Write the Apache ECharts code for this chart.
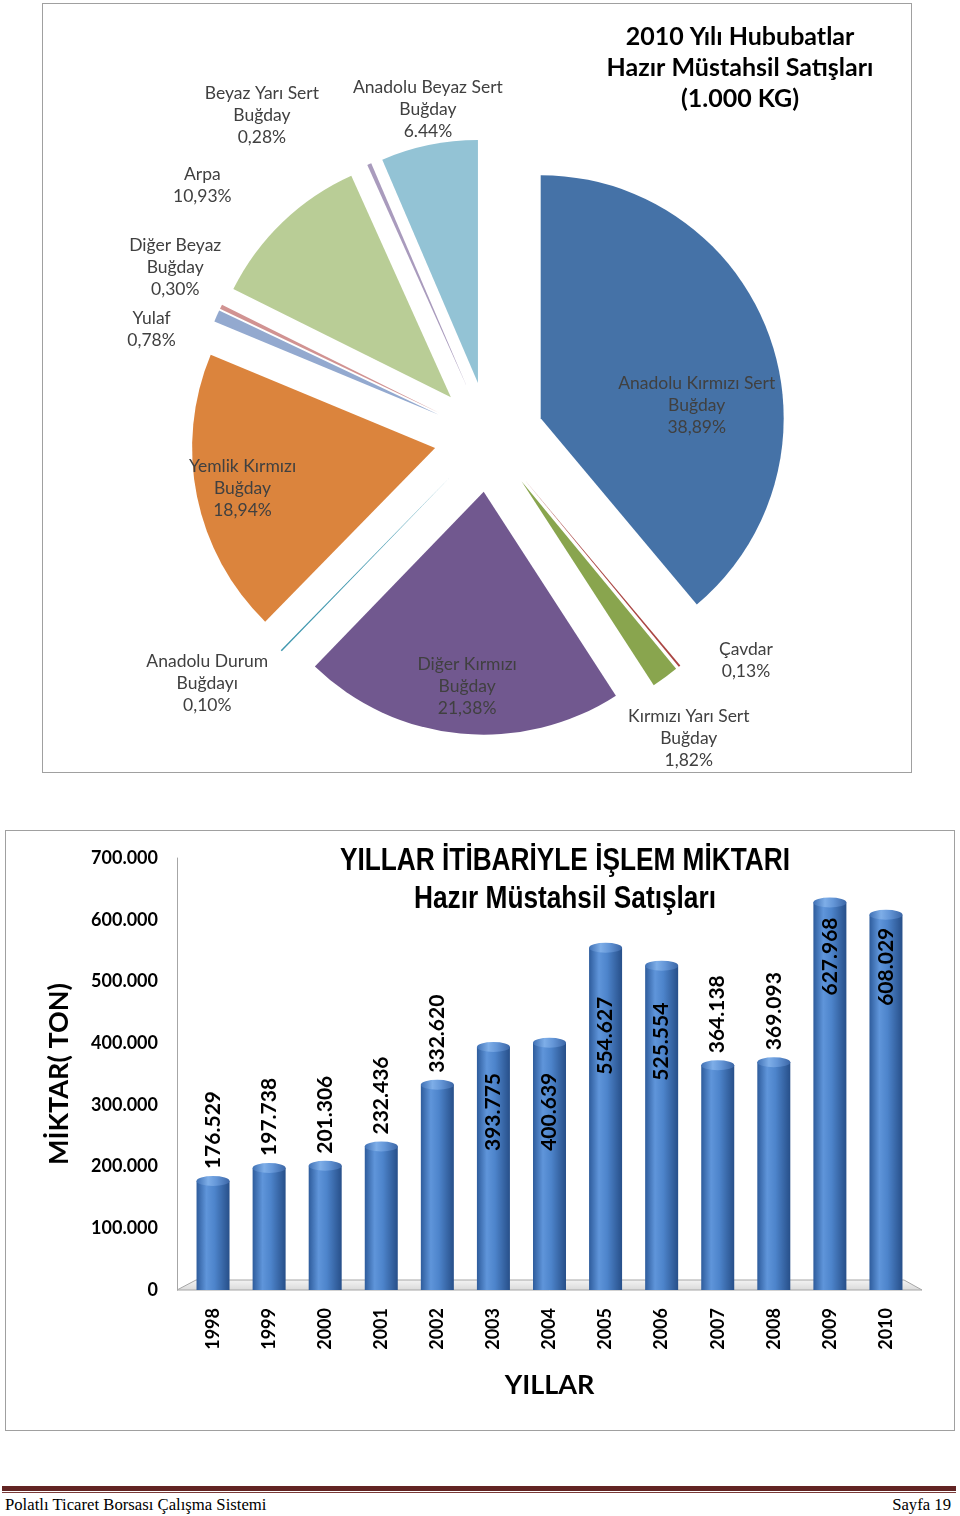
<!DOCTYPE html>
<html>
<head>
<meta charset="utf-8">
<script src="https://cdn.jsdelivr.net/npm/echarts@6/dist/echarts.min.js"></script>
<style>
  html, body { margin:0; padding:0; background:#fff; width:960px; height:1516px; overflow:hidden; position:relative; }
  #pie { position:absolute; left:42px; top:3px; width:868px; height:768px; border:1px solid #a0a0a0; }
  #bar { position:absolute; left:5px; top:830px; width:948px; height:599px; border:1px solid #a0a0a0; }
  #rule1 { position:absolute; left:2px; top:1486px; width:954px; height:5px; background:#622423; }
  #rule2 { position:absolute; left:2px; top:1492px; width:954px; height:1px; background:#7a3a38; }
  .ft { position:absolute; top:1496px; font-family:'Liberation Serif', serif; font-size:16.7px; line-height:18px; color:#000; }
  #ftl { left:5px; }
  #ftr { right:9px; }
</style>
</head>
<body>
<div id="pie"></div>
<div id="bar"></div>
<div id="rule1"></div>
<div id="rule2"></div>
<div class="ft" id="ftl">Polatlı Ticaret Borsası Çalışma Sistemi</div>
<div class="ft" id="ftr">Sayfa 19</div>
<script>
// ---------- DATA ----------
const pieTitle = '2010 Yılı Hububatlar\nHazır Müstahsil Satışları\n(1.000 KG)';
const pieNames = [
  'Anadolu Kırmızı Sert\nBuğday', 'Çavdar', 'Kırmızı Yarı Sert\nBuğday', 'Diğer Kırmızı\nBuğday',
  'Anadolu Durum\nBuğdayı', 'Yemlik Kırmızı\nBuğday', 'Yulaf', 'Diğer Beyaz\nBuğday',
  'Arpa', 'Beyaz Yarı Sert\nBuğday', 'Anadolu Beyaz Sert\nBuğday'
];
const pieValues = [38.89, 0.13, 1.82, 21.38, 0.10, 18.94, 0.78, 0.30, 10.93, 0.28, 6.44];
const piePercentText = ['38,89%', '0,13%', '1,82%', '21,38%', '0,10%', '18,94%', '0,78%', '0,30%', '10,93%', '0,28%', '6.44%'];

const barTitle = 'YILLAR İTİBARİYLE İŞLEM MİKTARI\nHazır Müstahsil Satışları';
const years = ['1998','1999','2000','2001','2002','2003','2004','2005','2006','2007','2008','2009','2010'];
const amounts = [176529, 197738, 201306, 232436, 332620, 393775, 400639, 554627, 525554, 364138, 369093, 627968, 608029];
const yAxisName = 'MİKTAR( TON)';
const xAxisName = 'YILLAR';

// ---------- STYLE ----------
const pieColors = ['#4572A7','#AA4643','#89A54E','#71588F','#4198AF','#DB843D','#93A9CF','#D19392','#B9CD96','#A99BBD','#93C3D5'];
// label placement: [angle (deg, clockwise from top), distance from pie centre]
const pieLabelPolar = [[81.5,210],[131.1,341],[146.5,362],[185,251],[228.7,375],[258,252],[287.6,354],[298.2,356],[311.2,381],[324.7,393],[349.4,332]];
const pieCenter = [446, 433];
// bar value label placement
const valueInside = [false,false,false,false,false,true,true,true,true,false,false,true,true];
const valueGap = [12,12,12,12,12,26,30,49,37,12,12,15,13];

function fmtThousands(v) {
  return String(v).replace(/\B(?=(\d{3})+(?!\d))/g, '.');
}

// ---------- PIE ----------
const pie = echarts.init(document.getElementById('pie'), null, {renderer:'canvas'});
const pieLabelGraphics = pieNames.map((n, i) => {
  const a = pieLabelPolar[i][0] * Math.PI / 180;
  return {
    type: 'text', z: 10,
    x: pieCenter[0] + pieLabelPolar[i][1] * Math.sin(a),
    y: pieCenter[1] - 1 - pieLabelPolar[i][1] * Math.cos(a),
    style: { text: n + '\n' + piePercentText[i], align: 'center', verticalAlign: 'middle',
      fill: '#404040', font: '17.5px Lato', lineHeight: 22 }
  };
});
pie.setOption({
  animation: false,
  graphic: [{
    type: 'text', x: 697, y: 17, z: 10,
    style: { text: pieTitle, align: 'center', verticalAlign: 'top', fill: '#000',
      font: 'bold 25px Lato', lineHeight: 31 }
  }].concat(pieLabelGraphics),
  series: [{
    type: 'pie',
    center: pieCenter,
    radius: [0, 243],
    startAngle: 90,
    clockwise: true,
    selectedMode: 'multiple',
    selectedOffset: 55,
    avoidLabelOverlap: false,
    emphasis: { disabled: true },
    label: { show: false },
    labelLine: { show: false },
    data: pieValues.map((v, i) => ({
      name: pieNames[i], value: v, selected: true,
      itemStyle: { color: pieColors[i] }
    }))
  }]
});

// ---------- BAR ----------
const bar = echarts.init(document.getElementById('bar'), null, {renderer:'canvas'});
const gridOpt = { left: 179, right: 40, top: 27, bottom: 140 };
const bodyGrad = { type:'linear', x:0, y:0, x2:1, y2:0, colorStops:[
  {offset:0, color:'#2e5c9c'}, {offset:0.3, color:'#5f95da'}, {offset:0.55, color:'#4d84cb'}, {offset:1, color:'#274f89'} ]};
const capGrad = { type:'linear', x:0, y:0, x2:1, y2:0, colorStops:[
  {offset:0, color:'#3f70b4'}, {offset:0.35, color:'#7eaee8'}, {offset:0.6, color:'#6597d8'}, {offset:1, color:'#3b66a6'} ]};
const ellipsePath = 'path://M0,5 A5,5 0 1,1 10,5 A5,5 0 1,1 0,5 Z';

bar.setOption({
  animation: false,
  grid: gridOpt,
  graphic: [{
    id: 'title', type: 'text', x: 559, y: 11, z: 10, scaleX: 0.82,
    style: { text: barTitle, align: 'center', verticalAlign: 'top', fill: '#000',
      font: 'bold 32px "Liberation Sans"', lineHeight: 38 }
  }],
  xAxis: {
    type: 'category', data: years,
    axisLine: { show: false }, axisTick: { show: false },
    axisLabel: { rotate: 90, margin: 18, fontFamily: 'Lato', fontWeight: 'bold', fontSize: 18, color: '#000' },
    name: xAxisName, nameLocation: 'middle', nameGap: 82,
    nameTextStyle: { fontFamily: 'Lato', fontWeight: 'bold', fontSize: 27, color: '#000' }
  },
  yAxis: {
    type: 'value', min: 0, max: 700000, interval: 100000, offset: 8,
    axisLine: { show: true, lineStyle: { color: '#a6a6a6', width: 1 } },
    axisTick: { show: false }, splitLine: { show: false },
    axisLabel: { margin: 19, fontFamily: 'Lato', fontWeight: 'bold', fontSize: 18, color: '#000',
      formatter: v => fmtThousands(v) },
    name: yAxisName, nameLocation: 'middle', nameGap: 104,
    nameTextStyle: { fontFamily: 'Lato', fontWeight: 'bold', fontSize: 27, color: '#000' }
  },
  series: [
    {
      type: 'bar', name: 'Miktar', z: 2, barWidth: 33,
      itemStyle: { color: bodyGrad },
      label: {
        show: true, rotate: 90, verticalAlign: 'middle', fontFamily: 'Lato', fontWeight: 'bold',
        fontSize: 21, color: '#000', formatter: p => fmtThousands(p.value)
      },
      data: amounts.map((v, i) => ({
        value: v,
        label: { position: valueInside[i] ? 'insideTop' : 'top', align: valueInside[i] ? 'right' : 'left', distance: valueGap[i] }
      }))
    },
    {
      type: 'pictorialBar', name: 'cap', z: 3,
      symbol: ellipsePath, symbolSize: [33, 10], symbolPosition: 'end', symbolOffset: [0, '-50%'],
      itemStyle: { color: capGrad }, silent: true,
      data: amounts
    }
  ]
});

// floor (3D base) derived from grid geometry
(function () {
  const y0 = bar.convertToPixel({ yAxisIndex: 0 }, 0);
  const W = bar.getWidth();
  const xl = gridOpt.left - 8, xr = W - gridOpt.right + 8;
  bar.setOption({
    graphic: [{
      id: 'floor', type: 'polygon', z: 0,
      shape: { points: [[xl, y0], [xl + 19, y0 - 10], [xr - 18, y0 - 10], [xr, y0]] },
      style: { fill: { type:'linear', x:0, y:0, x2:0, y2:1, colorStops:[{offset:0, color:'#f4f4f4'}, {offset:1, color:'#d9d9d9'}] },
        stroke: '#a6a6a6', lineWidth: 1 }
    }]
  });
})();
</script>
</body>
</html>
